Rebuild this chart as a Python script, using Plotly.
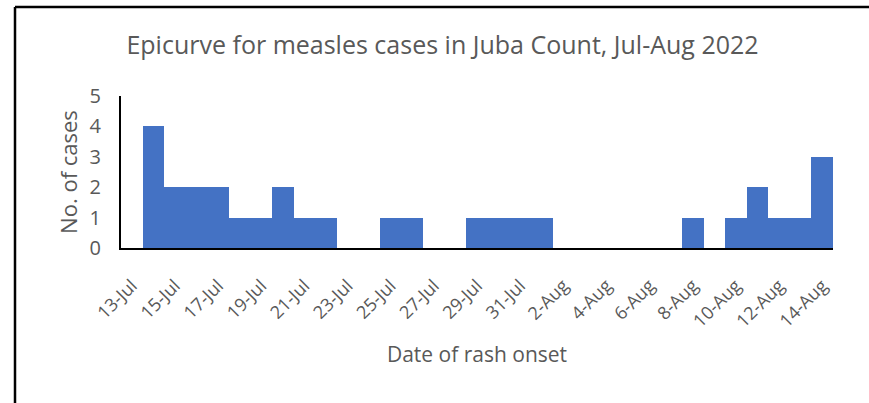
import plotly.graph_objects as go

dates = ["13-Jul", "14-Jul", "15-Jul", "16-Jul", "17-Jul", "18-Jul", "19-Jul", "20-Jul",
         "21-Jul", "22-Jul", "23-Jul", "24-Jul", "25-Jul", "26-Jul", "27-Jul", "28-Jul",
         "29-Jul", "30-Jul", "31-Jul", "1-Aug", "2-Aug", "3-Aug", "4-Aug", "5-Aug",
         "6-Aug", "7-Aug", "8-Aug", "9-Aug", "10-Aug", "11-Aug", "12-Aug", "13-Aug", "14-Aug"]
cases = [0, 4, 2, 2, 2, 1, 1, 2, 1, 1, 0, 0, 1, 1, 0, 0,
         1, 1, 1, 1, 0, 0, 0, 0, 0, 0, 1, 0, 1, 2, 1, 1, 3]
tick_labels = ["13-Jul", "15-Jul", "17-Jul", "19-Jul", "21-Jul", "23-Jul", "25-Jul", "27-Jul",
               "29-Jul", "31-Jul", "2-Aug", "4-Aug", "6-Aug", "8-Aug", "10-Aug", "12-Aug", "14-Aug"]
y_ticks = [0, 1, 2, 3, 4, 5]

W, H = 869, 403
L, R, T, B = 121, 36, 96, 155
pw, ph = W - L - R, H - T - B

def px(x):
    return (x - L) / pw

def py(y):
    return (H - B - y) / ph

FONT = "Open Sans"
GREY = "#595959"

fig = go.Figure(go.Bar(
    x=dates, y=cases,
    marker=dict(color="#4472C4", line=dict(color="#4472C4", width=0)),
))

fig.update_layout(
    width=W, height=H,
    margin=dict(l=L, r=R, t=T, b=B),
    paper_bgcolor="white", plot_bgcolor="white",
    bargap=0,
    showlegend=False,
    title=dict(text="Epicurve for measles cases in Juba Count, Jul-Aug 2022",
               xref="container", x=442.5 / W, xanchor="center",
               yref="container", y=1 - 45 / H, yanchor="middle",
               font=dict(family=FONT, size=25, color=GREY)),
    font=dict(family=FONT, color=GREY),
    xaxis=dict(
        type="category", tickmode="array", tickvals=tick_labels, ticktext=tick_labels,
        tickangle=-45, tickfont=dict(size=18, color=GREY), ticklabelstandoff=18,
        showline=True, linecolor="black", linewidth=2, showgrid=False, ticks="",
        title=dict(text="Date of rash onset", font=dict(size=21, color=GREY), standoff=16),
    ),
    yaxis=dict(
        range=[0, 5], tickvals=y_ticks, tickfont=dict(size=20, color=GREY),
        showline=True, linecolor="black", linewidth=2, showgrid=False, ticks="",
        ticklabelstandoff=14, zeroline=False,
        title=dict(text="No. of cases", font=dict(size=22, color=GREY), standoff=6),
    ),
    shapes=[
        dict(type="line", xref="paper", yref="paper", x0=px(15), x1=px(869),
             y0=py(7), y1=py(7), line=dict(color="black", width=2.5)),
        dict(type="line", xref="paper", yref="paper", x0=px(15), x1=px(15),
             y0=py(7), y1=py(403), line=dict(color="black", width=2.5)),
    ],
)

fig.write_html(
    "out.html",
    config={"displayModeBar": False},
    post_script="document.body.style.margin='0';document.body.style.overflow='hidden';",
)
